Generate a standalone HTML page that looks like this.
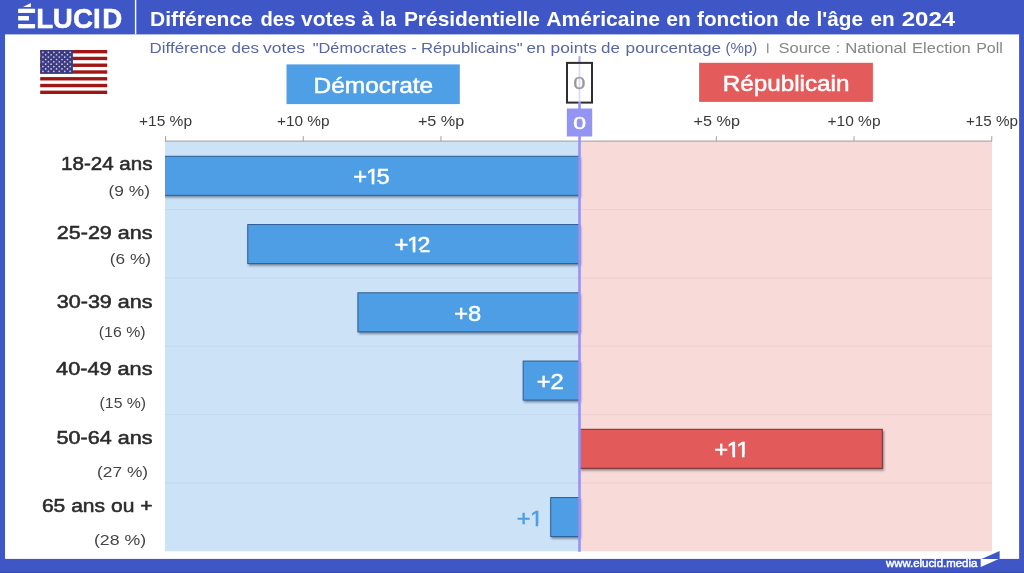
<!DOCTYPE html>
<html lang="fr"><head><meta charset="utf-8"><title>Différence des votes à la Présidentielle Américaine en fonction de l'âge en 2024</title>
<style>
html,body{margin:0;padding:0;background:#fff;}
body{width:1024px;height:573px;overflow:hidden;}
svg{display:block;}
text{font-family:"Liberation Sans",sans-serif;}
</style></head><body>
<svg width="1024" height="573" viewBox="0 0 1024 573">
<defs>
<filter id="sh" x="-5%" y="-20%" width="110%" height="150%"><feGaussianBlur stdDeviation="0.8"/></filter>
<clipPath id="pc"><rect x="164.9" y="141" width="827.1" height="411"/></clipPath>
</defs>
<rect x="0" y="0" width="1024" height="573" fill="#3f56c6"/>
<rect x="5" y="34.4" width="1014.1" height="524.5" fill="#ffffff"/>
<rect x="134.9" y="0" width="1.4" height="34.4" fill="#ffffff"/>
<g fill="#ffffff">
<text x="16.7 36.3 52.7 73.0 93.1 102.3" y="28.1" font-size="27.7" font-weight="bold" stroke="#fff" stroke-width="0.5">ÉLUCID</text>
<rect x="17" y="0" width="19" height="8.6" fill="#3f56c6"/>
<rect x="17" y="12.9" width="6.5" height="3.1" fill="#3f56c6"/><rect x="17" y="20.3" width="6.5" height="3.8" fill="#3f56c6"/><rect x="28.8" y="15" width="7" height="6" fill="#3f56c6"/>
<rect x="18.5" y="8.8" width="16.6" height="4.1"/><rect x="18.5" y="16" width="10.3" height="4.3"/><rect x="18.5" y="24.1" width="16.6" height="4"/>
<polygon points="23.0,6.9 30.8,3.0 30.8,6.9"/>
</g>
<text y="25.8" font-size="19.7" fill="#fff" font-weight="bold"><tspan x="150.0" textLength="102.8" lengthAdjust="spacingAndGlyphs">Différence</tspan> <tspan x="260.5" textLength="34.8" lengthAdjust="spacingAndGlyphs">des</tspan> <tspan x="301.1" textLength="54.8" lengthAdjust="spacingAndGlyphs">votes</tspan> <tspan x="361.6" textLength="12.3" lengthAdjust="spacingAndGlyphs">à</tspan> <tspan x="379.7" textLength="16.4" lengthAdjust="spacingAndGlyphs">la</tspan> <tspan x="403.9" textLength="136.1" lengthAdjust="spacingAndGlyphs">Présidentielle</tspan> <tspan x="546.3" textLength="113.7" lengthAdjust="spacingAndGlyphs">Américaine</tspan> <tspan x="666.3" textLength="24.6" lengthAdjust="spacingAndGlyphs">en</tspan> <tspan x="697.1" textLength="81.6" lengthAdjust="spacingAndGlyphs">fonction</tspan> <tspan x="785.7" textLength="24.3" lengthAdjust="spacingAndGlyphs">de</tspan> <tspan x="816.6" textLength="46.5" lengthAdjust="spacingAndGlyphs">l'âge</tspan> <tspan x="870.5" textLength="24.2" lengthAdjust="spacingAndGlyphs">en</tspan> <tspan x="901.7" textLength="53.5" lengthAdjust="spacingAndGlyphs">2024</tspan></text>
<text y="53.1" font-size="15.2" fill="#5966a6" ><tspan x="149.6" textLength="76.9" lengthAdjust="spacingAndGlyphs">Différence</tspan> <tspan x="231.6" textLength="27.4" lengthAdjust="spacingAndGlyphs">des</tspan> <tspan x="263.1" textLength="41.8" lengthAdjust="spacingAndGlyphs">votes</tspan> <tspan x="312.8" textLength="93.7" lengthAdjust="spacingAndGlyphs">"Démocrates</tspan> <tspan x="411.6" textLength="5.3" lengthAdjust="spacingAndGlyphs">-</tspan> <tspan x="421.0" textLength="101.6" lengthAdjust="spacingAndGlyphs">Républicains"</tspan> <tspan x="526.6" textLength="19.0" lengthAdjust="spacingAndGlyphs">en</tspan> <tspan x="550.6" textLength="46.2" lengthAdjust="spacingAndGlyphs">points</tspan> <tspan x="601.1" textLength="18.9" lengthAdjust="spacingAndGlyphs">de</tspan> <tspan x="625.6" textLength="95.5" lengthAdjust="spacingAndGlyphs">pourcentage</tspan> <tspan x="725.6" textLength="31.7" lengthAdjust="spacingAndGlyphs">(%p)</tspan></text>
<rect x="767.1" y="43.3" width="1.3" height="9.8" fill="#8a8a8a"/>
<text y="53.1" font-size="15.2" fill="#868686" ><tspan x="778.5" textLength="52.3" lengthAdjust="spacingAndGlyphs">Source</tspan> <tspan x="835.8" textLength="4.3" lengthAdjust="spacingAndGlyphs">:</tspan> <tspan x="845.2" textLength="61.3" lengthAdjust="spacingAndGlyphs">National</tspan> <tspan x="912.1" textLength="58.7" lengthAdjust="spacingAndGlyphs">Election</tspan> <tspan x="976.2" textLength="26.7" lengthAdjust="spacingAndGlyphs">Poll</tspan></text>
<g>
<rect x="40.2" y="50" width="67" height="44" fill="#fff"/>
<rect x="40.2" y="50.00" width="67" height="3.38" fill="#a01515"/>
<rect x="40.2" y="56.77" width="67" height="3.38" fill="#a01515"/>
<rect x="40.2" y="63.54" width="67" height="3.38" fill="#a01515"/>
<rect x="40.2" y="70.31" width="67" height="3.38" fill="#a01515"/>
<rect x="40.2" y="77.08" width="67" height="3.38" fill="#a01515"/>
<rect x="40.2" y="83.85" width="67" height="3.38" fill="#a01515"/>
<rect x="40.2" y="90.62" width="67" height="3.38" fill="#a01515"/>
<rect x="40.2" y="50" width="32.7" height="23.69" fill="#3c3b80"/>
<circle cx="42.93" cy="52.37" r="0.85" fill="#cfcef0"/>
<circle cx="48.38" cy="52.37" r="0.85" fill="#cfcef0"/>
<circle cx="53.83" cy="52.37" r="0.85" fill="#cfcef0"/>
<circle cx="59.28" cy="52.37" r="0.85" fill="#cfcef0"/>
<circle cx="64.73" cy="52.37" r="0.85" fill="#cfcef0"/>
<circle cx="70.18" cy="52.37" r="0.85" fill="#cfcef0"/>
<circle cx="45.65" cy="54.74" r="0.85" fill="#cfcef0"/>
<circle cx="51.10" cy="54.74" r="0.85" fill="#cfcef0"/>
<circle cx="56.55" cy="54.74" r="0.85" fill="#cfcef0"/>
<circle cx="62.00" cy="54.74" r="0.85" fill="#cfcef0"/>
<circle cx="67.45" cy="54.74" r="0.85" fill="#cfcef0"/>
<circle cx="42.93" cy="57.11" r="0.85" fill="#cfcef0"/>
<circle cx="48.38" cy="57.11" r="0.85" fill="#cfcef0"/>
<circle cx="53.83" cy="57.11" r="0.85" fill="#cfcef0"/>
<circle cx="59.28" cy="57.11" r="0.85" fill="#cfcef0"/>
<circle cx="64.73" cy="57.11" r="0.85" fill="#cfcef0"/>
<circle cx="70.18" cy="57.11" r="0.85" fill="#cfcef0"/>
<circle cx="45.65" cy="59.48" r="0.85" fill="#cfcef0"/>
<circle cx="51.10" cy="59.48" r="0.85" fill="#cfcef0"/>
<circle cx="56.55" cy="59.48" r="0.85" fill="#cfcef0"/>
<circle cx="62.00" cy="59.48" r="0.85" fill="#cfcef0"/>
<circle cx="67.45" cy="59.48" r="0.85" fill="#cfcef0"/>
<circle cx="42.93" cy="61.85" r="0.85" fill="#cfcef0"/>
<circle cx="48.38" cy="61.85" r="0.85" fill="#cfcef0"/>
<circle cx="53.83" cy="61.85" r="0.85" fill="#cfcef0"/>
<circle cx="59.28" cy="61.85" r="0.85" fill="#cfcef0"/>
<circle cx="64.73" cy="61.85" r="0.85" fill="#cfcef0"/>
<circle cx="70.18" cy="61.85" r="0.85" fill="#cfcef0"/>
<circle cx="45.65" cy="64.22" r="0.85" fill="#cfcef0"/>
<circle cx="51.10" cy="64.22" r="0.85" fill="#cfcef0"/>
<circle cx="56.55" cy="64.22" r="0.85" fill="#cfcef0"/>
<circle cx="62.00" cy="64.22" r="0.85" fill="#cfcef0"/>
<circle cx="67.45" cy="64.22" r="0.85" fill="#cfcef0"/>
<circle cx="42.93" cy="66.58" r="0.85" fill="#cfcef0"/>
<circle cx="48.38" cy="66.58" r="0.85" fill="#cfcef0"/>
<circle cx="53.83" cy="66.58" r="0.85" fill="#cfcef0"/>
<circle cx="59.28" cy="66.58" r="0.85" fill="#cfcef0"/>
<circle cx="64.73" cy="66.58" r="0.85" fill="#cfcef0"/>
<circle cx="70.18" cy="66.58" r="0.85" fill="#cfcef0"/>
<circle cx="45.65" cy="68.95" r="0.85" fill="#cfcef0"/>
<circle cx="51.10" cy="68.95" r="0.85" fill="#cfcef0"/>
<circle cx="56.55" cy="68.95" r="0.85" fill="#cfcef0"/>
<circle cx="62.00" cy="68.95" r="0.85" fill="#cfcef0"/>
<circle cx="67.45" cy="68.95" r="0.85" fill="#cfcef0"/>
<circle cx="42.93" cy="71.32" r="0.85" fill="#cfcef0"/>
<circle cx="48.38" cy="71.32" r="0.85" fill="#cfcef0"/>
<circle cx="53.83" cy="71.32" r="0.85" fill="#cfcef0"/>
<circle cx="59.28" cy="71.32" r="0.85" fill="#cfcef0"/>
<circle cx="64.73" cy="71.32" r="0.85" fill="#cfcef0"/>
<circle cx="70.18" cy="71.32" r="0.85" fill="#cfcef0"/>
</g>
<rect x="286.5" y="64.4" width="173.3" height="39.7" fill="#4e9fe6"/>
<text x="313.6" y="93.2" font-size="21.5" fill="#fff" textLength="119.6" lengthAdjust="spacingAndGlyphs" stroke="#fff" stroke-width="0.5">Démocrate</text>
<rect x="699.1" y="62.8" width="173.8" height="39.1" fill="#e35b5b"/>
<text x="722.8" y="90.8" font-size="21.5" fill="#fff" textLength="126.6" lengthAdjust="spacingAndGlyphs" stroke="#fff" stroke-width="0.5">Républicain</text>
<rect x="578.4000000000001" y="56.2" width="2.2" height="8" fill="#a9a8f2"/>
<rect x="567.0" y="62.9" width="25.0" height="39.7" fill="#fff" stroke="#2e2e2e" stroke-width="2"/>
<rect x="578.6" y="64" width="1.8" height="37.5" fill="#dcdcf9"/>
<text x="573.3" y="88.5" font-size="16.2" fill="#9a9a9a" textLength="12.2" lengthAdjust="spacingAndGlyphs" stroke="#9a9a9a" stroke-width="0.3">0</text>
<rect x="164.9" y="141.2" width="414.6" height="410.09999999999997" fill="#cce2f6"/>
<rect x="579.5" y="141.2" width="412.5" height="410.09999999999997" fill="#f8dad8"/>
<rect x="164.9" y="209.05" width="827.1" height="1" fill="#203040" opacity="0.05"/>
<rect x="164.9" y="277.40" width="827.1" height="1" fill="#203040" opacity="0.05"/>
<rect x="164.9" y="345.75" width="827.1" height="1" fill="#203040" opacity="0.05"/>
<rect x="164.9" y="414.10" width="827.1" height="1" fill="#203040" opacity="0.05"/>
<rect x="164.9" y="482.45" width="827.1" height="1" fill="#203040" opacity="0.05"/>
<rect x="164.9" y="140.6" width="827.1" height="1" fill="#9a9a9a"/>
<rect x="165.00" y="136.1" width="1.1" height="5" fill="#a8a8a8"/>
<text x="139.0" y="126.4" font-size="15" fill="#3a3a3a" textLength="53.0" lengthAdjust="spacingAndGlyphs">+15 %p</text>
<rect x="302.70" y="136.1" width="1.1" height="5" fill="#a8a8a8"/>
<text x="277.0" y="126.4" font-size="15" fill="#3a3a3a" textLength="52.5" lengthAdjust="spacingAndGlyphs">+10 %p</text>
<rect x="440.40" y="136.1" width="1.1" height="5" fill="#a8a8a8"/>
<text x="417.9" y="126.4" font-size="15" fill="#3a3a3a" textLength="46.4" lengthAdjust="spacingAndGlyphs">+5 %p</text>
<rect x="715.80" y="136.1" width="1.1" height="5" fill="#a8a8a8"/>
<text x="693.5" y="126.4" font-size="15" fill="#3a3a3a" textLength="46.4" lengthAdjust="spacingAndGlyphs">+5 %p</text>
<rect x="853.50" y="136.1" width="1.1" height="5" fill="#a8a8a8"/>
<text x="827.5" y="126.4" font-size="15" fill="#3a3a3a" textLength="53.0" lengthAdjust="spacingAndGlyphs">+10 %p</text>
<rect x="991.20" y="136.1" width="1.1" height="5" fill="#a8a8a8"/>
<text x="965.9" y="126.4" font-size="15" fill="#3a3a3a" textLength="52.1" lengthAdjust="spacingAndGlyphs">+15 %p</text>
<rect x="578.2" y="102" width="2.6" height="8" fill="#9694f2"/>
<rect x="566.8" y="108.5" width="25.4" height="28" fill="#9494f5"/>
<text x="573.2" y="129.2" font-size="17.4" fill="#fff" textLength="12.8" lengthAdjust="spacingAndGlyphs" stroke="#fff" stroke-width="0.5">0</text>
<rect x="164.54" y="157.80" width="416.36" height="39.70" fill="#1b2b45" opacity="0.5" filter="url(#sh)" clip-path="url(#pc)"/>
<rect x="163.84" y="156.30" width="415.36" height="39.00" fill="#4d9ee5" stroke="#2f5f94" stroke-width="1" clip-path="url(#pc)"/>
<g transform="translate(0,184.20) scale(1.05,1)"><text x="336.45 348.55 358.50" y="0" font-size="22.6" fill="#fff" stroke="#fff" stroke-width="0.5">+15</text><rect x="349.02" y="-2.44" width="4.96" height="3.79" fill="#4d9ee5"/><rect x="356.48" y="-2.44" width="4.79" height="3.79" fill="#4d9ee5"/></g>
<text x="61.0" y="170.3" font-size="18.7" fill="#2b2b2b" stroke="#2b2b2b" stroke-width="0.55" textLength="91.5" lengthAdjust="spacingAndGlyphs">18-24 ans</text>
<text x="108.6" y="196.0" font-size="15.3" fill="#444" textLength="41.4" lengthAdjust="spacingAndGlyphs">(9 %)</text>
<rect x="248.46" y="226.05" width="332.44" height="39.70" fill="#1b2b45" opacity="0.5" filter="url(#sh)" clip-path="url(#pc)"/>
<rect x="247.76" y="224.55" width="331.44" height="39.00" fill="#4d9ee5" stroke="#2f5f94" stroke-width="1" clip-path="url(#pc)"/>
<g transform="translate(0,252.20) scale(1.05,1)"><text x="375.79 387.69 397.43" y="0" font-size="22.6" fill="#fff" stroke="#fff" stroke-width="0.5">+12</text><rect x="388.16" y="-2.44" width="4.96" height="3.79" fill="#4d9ee5"/><rect x="395.62" y="-2.44" width="4.79" height="3.79" fill="#4d9ee5"/></g>
<text x="56.8" y="238.7" font-size="18.7" fill="#2b2b2b" stroke="#2b2b2b" stroke-width="0.55" textLength="95.7" lengthAdjust="spacingAndGlyphs">25-29 ans</text>
<text x="109.8" y="264.4" font-size="15.3" fill="#444" textLength="41.2" lengthAdjust="spacingAndGlyphs">(6 %)</text>
<rect x="358.62" y="294.30" width="222.28" height="39.70" fill="#1b2b45" opacity="0.5" filter="url(#sh)" clip-path="url(#pc)"/>
<rect x="357.92" y="292.80" width="221.28" height="39.00" fill="#4d9ee5" stroke="#2f5f94" stroke-width="1" clip-path="url(#pc)"/>
<g transform="translate(0,320.90) scale(1.05,1)"><text x="432.74 445.62" y="0" font-size="22.6" fill="#fff" stroke="#fff" stroke-width="0.5">+8</text></g>
<text x="56.8" y="307.6" font-size="18.7" fill="#2b2b2b" stroke="#2b2b2b" stroke-width="0.55" textLength="95.7" lengthAdjust="spacingAndGlyphs">30-39 ans</text>
<text x="98.8" y="336.7" font-size="15.3" fill="#444" textLength="46.8" lengthAdjust="spacingAndGlyphs">(16 %)</text>
<rect x="523.86" y="362.55" width="57.04" height="39.70" fill="#1b2b45" opacity="0.5" filter="url(#sh)" clip-path="url(#pc)"/>
<rect x="523.16" y="361.05" width="56.04" height="39.00" fill="#4d9ee5" stroke="#2f5f94" stroke-width="1" clip-path="url(#pc)"/>
<g transform="translate(0,389.20) scale(1.05,1)"><text x="511.31 524.33" y="0" font-size="22.6" fill="#fff" stroke="#fff" stroke-width="0.5">+2</text></g>
<text x="56.1" y="375.3" font-size="18.7" fill="#2b2b2b" stroke="#2b2b2b" stroke-width="0.55" textLength="96.4" lengthAdjust="spacingAndGlyphs">40-49 ans</text>
<text x="99.6" y="407.8" font-size="15.3" fill="#444" textLength="46.5" lengthAdjust="spacingAndGlyphs">(15 %)</text>
<rect x="580.40" y="430.80" width="303.60" height="39.70" fill="#1b2b45" opacity="0.5" filter="url(#sh)" clip-path="url(#pc)"/>
<rect x="579.70" y="429.30" width="302.60" height="39.00" fill="#e35a5a" stroke="#7a3030" stroke-width="1" clip-path="url(#pc)"/>
<g transform="translate(0,457.20) scale(1.05,1)"><text x="680.36 692.16 701.12" y="0" font-size="22.6" fill="#fff" stroke="#fff" stroke-width="0.5">+11</text><rect x="692.64" y="-2.44" width="4.96" height="3.79" fill="#e35a5a"/><rect x="700.10" y="-2.44" width="4.79" height="3.79" fill="#e35a5a"/><rect x="701.59" y="-2.44" width="4.96" height="3.79" fill="#e35a5a"/><rect x="709.05" y="-2.44" width="4.79" height="3.79" fill="#e35a5a"/></g>
<text x="56.6" y="443.6" font-size="18.7" fill="#2b2b2b" stroke="#2b2b2b" stroke-width="0.55" textLength="95.9" lengthAdjust="spacingAndGlyphs">50-64 ans</text>
<text x="97.1" y="476.8" font-size="15.3" fill="#444" textLength="51.0" lengthAdjust="spacingAndGlyphs">(27 %)</text>
<rect x="551.40" y="499.05" width="29.50" height="39.70" fill="#1b2b45" opacity="0.5" filter="url(#sh)" clip-path="url(#pc)"/>
<rect x="550.70" y="497.55" width="28.50" height="39.00" fill="#4d9ee5" stroke="#2f5f94" stroke-width="1" clip-path="url(#pc)"/>
<g transform="translate(0,525.92) scale(1.05,1)"><text x="492.26 504.67" y="0" font-size="22.6" fill="#4d9ee5" stroke="#4d9ee5" stroke-width="0.45">+1</text><rect x="505.16" y="-2.41" width="4.96" height="3.74" fill="#cce2f6"/><rect x="512.57" y="-2.41" width="4.79" height="3.74" fill="#cce2f6"/></g>
<text x="41.9" y="511.5" font-size="18.7" fill="#2b2b2b" stroke="#2b2b2b" stroke-width="0.55" textLength="110.6" lengthAdjust="spacingAndGlyphs">65 ans ou +</text>
<text x="93.9" y="545.0" font-size="15.3" fill="#444" textLength="52.2" lengthAdjust="spacingAndGlyphs">(28 %)</text>
<rect x="578.2" y="136" width="2.6" height="415.79999999999995" fill="#9694f2"/>
<text x="885.9" y="566.7" font-size="10.3" fill="#fff" stroke="#fff" stroke-width="0.45" textLength="91.4" lengthAdjust="spacingAndGlyphs">www.elucid.media</text>
<rect x="0" y="572" width="1024" height="1" fill="#3549b0"/>
<polygon points="981.5,558.9 999.6,550.9 999.6,558.9" fill="#3f56c6"/>
<polygon points="980.7,558.9 998.7,558.9 980.7,566.9" fill="#fff"/>
</svg></body></html>
